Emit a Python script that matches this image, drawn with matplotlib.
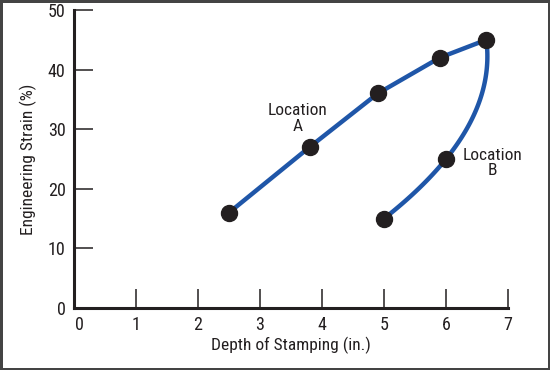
import numpy as np
import matplotlib
matplotlib.use("Agg")
import matplotlib.pyplot as plt
import matplotlib.transforms as mtransforms
from matplotlib import font_manager as fm

names = {f.name for f in fm.fontManager.ttflist}
narrow = [n for n in ['Roboto Condensed', 'Liberation Sans Narrow'] if n in names]
plt.rcParams['font.family'] = narrow + ['Liberation Sans', 'DejaVu Sans']

# Location A path (depth in., strain %)
depth_a = [2.5, 3.8, 4.9, 5.9, 6.65]
strain_a = [16, 27, 36, 42, 45]
# Location B path, from the peak back down
depth_b = [6.65, 6.0, 5.0]
strain_b = [45, 25, 15]

x_ticks = [0, 1, 2, 3, 4, 5, 6, 7]
y_ticks = [0, 10, 20, 30, 40, 50]

line_color = "#1f56a8"
ink = "#231f20"

fig = plt.figure(figsize=(5.5, 3.7), dpi=100, linewidth=2.5, edgecolor="#444444")
ax = fig.add_axes([74 / 550, 62 / 370, 434 / 550, 298 / 370])

ax.plot(depth_a, strain_a, color=line_color, lw=3.2, solid_capstyle='round', zorder=2)

# smooth curve for B: x as quadratic in y through the B points
coef = np.polyfit(strain_b, depth_b, 2)
yy = np.linspace(min(strain_b), max(strain_b), 100)
ax.plot(np.polyval(coef, yy), yy, color=line_color, lw=3.2, zorder=2)

ax.plot(depth_a + depth_b[1:], strain_a + strain_b[1:], 'o', color=ink,
        markersize=11.5, zorder=3)

ax.text(3.61, 31.8, "Location\nA", ha='center', va='center', fontsize=12.5,
        color=ink, linespacing=1.05)
ax.text(6.75, 24.3, "Location\nB", ha='center', va='center', fontsize=12.5,
        color=ink, linespacing=1.05)

ax.set_xlim(0, 7)
ax.set_ylim(0, 50)
ax.set_xticks(x_ticks)
ax.set_yticks(y_ticks)
ax.tick_params(direction='in', length=14, width=1.1, color=ink, labelsize=13,
               labelcolor=ink, pad=6)
ax.xaxis.get_major_ticks()[0].tick1line.set_visible(False)
ax.yaxis.get_major_ticks()[0].tick1line.set_visible(False)

# nudge the x "0" label right, as in the original
lbl0 = ax.get_xticklabels()[0]
lbl0.set_transform(lbl0.get_transform() +
                   mtransforms.ScaledTranslation(5 / 100, 0, fig.dpi_scale_trans))

for s in ['top', 'right']:
    ax.spines[s].set_visible(False)
for s in ['left', 'bottom']:
    ax.spines[s].set_linewidth(2.2)
    ax.spines[s].set_color(ink)

ax.set_xlabel("Depth of Stamping (in.)", fontsize=12.5, color=ink, labelpad=2)
ax.set_ylabel("Engineering Strain (%)", fontsize=12.5, color=ink, labelpad=8)

fig.savefig("out.png", dpi=100)
